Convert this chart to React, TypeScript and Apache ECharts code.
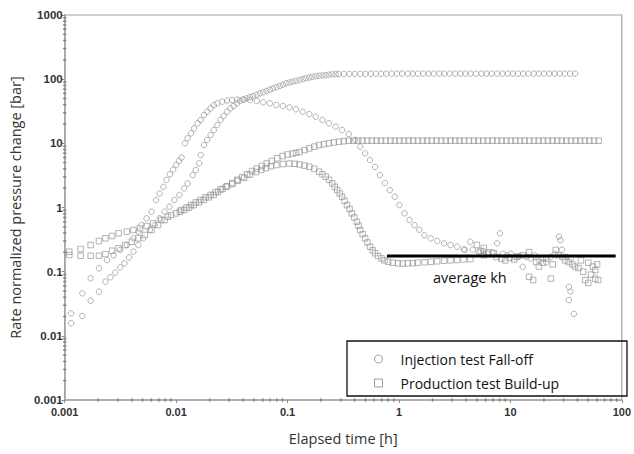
import React, { useEffect, useRef } from "react";
import * as echarts from "echarts";

// [elapsed time h, rate normalized pressure change bar]
const injectionDelta: [number, number][] = [
  [0.00114, 0.0157], [0.00144, 0.0204], [0.00171, 0.0353], [0.00203, 0.0487], [0.00232, 0.0698],
  [0.00257, 0.0817], [0.00284, 0.0964], [0.00315, 0.117], [0.00344, 0.135], [0.00379, 0.167],
  [0.00414, 0.205], [0.00458, 0.26], [0.00507, 0.331], [0.00581, 0.446], [0.00643, 0.533],
  [0.00711, 0.678], [0.00788, 0.86], [0.00873, 1.03], [0.00966, 1.31], [0.0107, 1.57],
  [0.0118, 1.99], [0.0127, 2.38], [0.0141, 3.21], [0.015, 3.84], [0.0161, 4.88],
  [0.0166, 6.58], [0.0178, 9.42], [0.019, 11.3], [0.0204, 13.5], [0.0218, 16.1],
  [0.0234, 19.3], [0.025, 23.1], [0.0267, 26.7], [0.0287, 31.1], [0.0307, 35.1],
  [0.0328, 38.2], [0.0352, 42], [0.0376, 46.1], [0.0403, 48.2], [0.0431, 50.3], [0.046, 52.5],
  [0.0493, 54.6], [0.0528, 57.2], [0.0565, 60.1], [0.0605, 62.6], [0.0648, 65.4], [0.0693, 68.5],
  [0.0741, 72], [0.0794, 75], [0.0849, 78.2], [0.0908, 82], [0.0973, 86.1], [0.104, 88.6],
  [0.111, 91.3], [0.119, 94], [0.128, 97], [0.137, 100], [0.146, 103], [0.157, 106],
  [0.167, 109], [0.179, 111], [0.192, 113], [0.206, 114.5], [0.22, 116], [0.235, 117.5],
  [0.252, 119], [0.27, 119.5], [0.288, 120], [0.32, 120.5], [0.36, 121], [0.4, 121],
  [0.45, 121], [0.5, 121], [0.56, 121.5], [0.62, 121.5], [0.69, 121.5], [0.77, 121.5],
  [0.86, 122], [0.96, 122], [1.07, 122], [1.2, 122], [1.33, 122], [1.48, 122], [1.65, 122],
  [1.84, 122], [2.05, 122], [2.3, 122], [2.55, 122], [2.85, 122], [3.2, 122], [3.55, 122],
  [3.95, 122], [4.4, 122], [4.9, 122], [5.5, 122], [6.1, 122], [6.8, 122], [7.6, 122],
  [8.5, 122], [9.5, 122], [10.5, 122], [11.7, 122], [13, 122], [14.5, 122], [16.2, 122],
  [18, 122], [20, 122], [22.3, 122], [24.9, 122], [27.7, 122], [30.9, 122], [34.4, 122], [38, 122],
];

const injectionDeriv: [number, number][] = [
  [0.00114, 0.0224], [0.00144, 0.046], [0.00171, 0.079], [0.00203, 0.113], [0.0024, 0.152],
  [0.00275, 0.18], [0.00315, 0.218], [0.00361, 0.26], [0.00414, 0.331], [0.00458, 0.42],
  [0.0049, 0.533], [0.00543, 0.678], [0.006, 0.86], [0.0066, 1.3], [0.0071, 1.65],
  [0.0077, 2.1], [0.0082, 2.7], [0.0088, 3.3], [0.0094, 3.9], [0.01, 4.6], [0.0106, 5.3],
  [0.0112, 6.0], [0.012, 10], [0.0127, 12], [0.0136, 14.3], [0.0145, 17.1], [0.0156, 20.5],
  [0.0166, 23.1], [0.0178, 27.6], [0.019, 31.1], [0.0204, 35.1], [0.0218, 39.5], [0.0234, 42],
  [0.0259, 44.6], [0.0287, 46.5], [0.0318, 47.3], [0.0352, 48], [0.0403, 48], [0.046, 47.3],
  [0.0528, 45.7], [0.0605, 43.6], [0.0693, 42], [0.0794, 39.5], [0.0908, 38.2], [0.104, 36.4],
  [0.119, 33.9], [0.137, 31.1], [0.157, 28.6], [0.179, 26], [0.206, 23.1], [0.235, 20.5],
  [0.27, 18.2], [0.309, 16.1], [0.354, 14.0], [0.405, 11.3], [0.449, 8.9], [0.497, 7.0],
  [0.55, 5.5], [0.61, 4.3], [0.675, 3.2], [0.747, 2.4], [0.827, 1.87], [0.916, 1.47],
  [1.01, 1.09], [1.12, 0.81], [1.24, 0.64], [1.38, 0.53], [1.52, 0.45], [1.69, 0.37],
  [1.93, 0.33], [2.21, 0.3], [2.54, 0.276], [2.9, 0.26], [3.33, 0.245], [3.81, 0.223],
  [3.9, 0.218], [4.37, 0.293], [4.6, 0.22], [5.2, 0.2], [5.7, 0.21], [6.3, 0.19], [6.9, 0.2],
  [7.6, 0.277], [8.05, 0.396], [8.6, 0.19], [9.3, 0.18], [10.1, 0.19], [11, 0.17], [12, 0.175],
  [12.9, 0.119], [14, 0.17], [15.2, 0.16], [16.5, 0.18], [18, 0.15], [19.5, 0.16], [21, 0.14],
  [23, 0.17], [25, 0.19], [27.3, 0.351], [28.1, 0.31], [29, 0.22], [32, 0.17], [33.5, 0.058],
  [34.6, 0.049], [33.5, 0.036], [35, 0.16], [37.1, 0.022],
];

const productionDelta: [number, number][] = [
  [0.0011, 0.205], [0.00139, 0.225], [0.00171, 0.26], [0.00203, 0.3], [0.00232, 0.331],
  [0.00266, 0.36], [0.00305, 0.396], [0.00361, 0.42], [0.00414, 0.446], [0.00473, 0.474],
  [0.00543, 0.515], [0.00622, 0.567], [0.00736, 0.638], [0.00845, 0.719], [0.01, 0.811],
  [0.0108, 0.86], [0.0118, 0.914], [0.0131, 1.0], [0.0144, 1.09], [0.016, 1.2], [0.0177, 1.31],
  [0.0196, 1.44], [0.0217, 1.57], [0.0238, 1.75], [0.0261, 1.94], [0.0287, 2.15], [0.0319, 2.41],
  [0.0354, 2.7], [0.0392, 2.99], [0.0435, 3.3], [0.048, 3.7], [0.053, 4.05], [0.0589, 4.43],
  [0.065, 4.85], [0.0722, 5.3], [0.081, 5.85], [0.0903, 6.34], [0.1, 6.7], [0.111, 6.94],
  [0.119, 7.1], [0.128, 7.32], [0.142, 7.85], [0.157, 8.36], [0.174, 8.9], [0.192, 9.41],
  [0.212, 9.7], [0.235, 10.0], [0.26, 10.3], [0.289, 10.6], [0.32, 10.8], [0.354, 11.0],
  [0.39, 11], [0.43, 11], [0.47, 11], [0.52, 11], [0.57, 11], [0.63, 11], [0.69, 11], [0.76, 11],
  [0.84, 11], [0.92, 11], [1.01, 11], [1.11, 11], [1.22, 11], [1.34, 11], [1.48, 11], [1.63, 11],
  [1.79, 11], [1.97, 11], [2.17, 11], [2.39, 11], [2.63, 11], [2.9, 11], [3.2, 11], [3.5, 11],
  [3.85, 11], [4.25, 11], [4.7, 11], [5.15, 11], [5.7, 11], [6.25, 11], [6.9, 11], [7.6, 11],
  [8.35, 11], [9.2, 11], [10.1, 11], [11.1, 11], [12.2, 11], [13.4, 11], [14.8, 11], [16.3, 11],
  [17.9, 11], [19.7, 11], [21.7, 11], [23.9, 11], [26.3, 11], [28.9, 11], [31.8, 11], [35, 11],
  [38.5, 11], [42.3, 11], [46.5, 11], [51.2, 11], [56.3, 11], [62, 11],
];

const productionDeriv: [number, number][] = [
  [0.0011, 0.182], [0.00139, 0.177], [0.00171, 0.177], [0.00203, 0.177], [0.00232, 0.188],
  [0.00266, 0.212], [0.00305, 0.231], [0.00349, 0.26], [0.004, 0.293], [0.00458, 0.331],
  [0.00524, 0.373], [0.006, 0.446], [0.00689, 0.533], [0.00788, 0.638], [0.00903, 0.763],
  [0.0111, 0.914], [0.0124, 1.0], [0.0136, 1.09], [0.015, 1.2], [0.0166, 1.31], [0.0184, 1.44],
  [0.0204, 1.57], [0.0226, 1.74], [0.025, 1.91], [0.028, 2.1], [0.0319, 2.32], [0.0357, 2.6],
  [0.0408, 2.88], [0.046, 3.25], [0.0521, 3.57], [0.058, 3.85], [0.0639, 4.12], [0.071, 4.4],
  [0.0794, 4.59], [0.091, 4.75], [0.104, 4.85], [0.116, 4.8], [0.128, 4.68], [0.142, 4.5],
  [0.157, 4.32], [0.174, 4.0], [0.192, 3.61], [0.206, 3.3], [0.22, 3.02], [0.236, 2.7],
  [0.252, 2.38], [0.265, 2.1], [0.279, 1.87], [0.294, 1.65], [0.309, 1.47], [0.325, 1.27],
  [0.342, 1.09], [0.36, 0.95], [0.378, 0.81], [0.398, 0.7], [0.419, 0.6], [0.434, 0.52],
  [0.449, 0.446], [0.472, 0.385], [0.497, 0.331], [0.522, 0.285], [0.55, 0.245], [0.58, 0.215],
  [0.61, 0.194], [0.65, 0.175], [0.697, 0.161], [0.74, 0.15], [0.8, 0.143], [0.88, 0.138],
  [0.98, 0.135], [1.08, 0.134], [1.2, 0.135], [1.33, 0.136], [1.47, 0.138], [1.7, 0.14],
  [1.93, 0.143], [2.2, 0.145], [2.54, 0.148], [2.9, 0.15], [3.33, 0.152], [3.8, 0.155],
  [4.37, 0.157], [5.0, 0.26], [5.4, 0.21], [5.77, 0.234], [5.77, 0.18], [6.3, 0.2], [7.08, 0.195],
  [7.52, 0.169], [8.3, 0.16], [9.0, 0.15], [9.8, 0.165], [10.8, 0.155], [11.5, 0.17], [13.0, 0.18],
  [14.7, 0.202], [14.7, 0.083], [16.0, 0.074], [17.0, 0.141], [18, 0.12], [19.6, 0.138],
  [21, 0.16], [23.1, 0.078], [24, 0.13], [25.5, 0.218], [27, 0.18], [29.4, 0.169], [31, 0.15],
  [33.3, 0.141], [36, 0.13], [38, 0.12], [40.8, 0.114], [43, 0.15], [45, 0.1], [47.1, 0.074],
  [50, 0.0666], [50, 0.138], [53, 0.09], [55, 0.12], [57.7, 0.0777], [57.7, 0.106], [60, 0.13],
  [61.3, 0.074],
];

const averageKh: [number, number][] = [[0.78, 0.175], [88, 0.175]];

const legendNames = ["Injection test Fall-off", "Production test Build-up"];
const minorFactors = [2, 3, 4, 5, 6, 7, 8, 9];
const xDecades = [-3, -2, -1, 0, 1];
const yDecades = [-3, -2, -1, 0, 1, 2];

const FONT = "'Open Sans', 'Noto Sans', sans-serif";
const AXIS_GRAY = "#a3a3a3";
const MARK_GRAY = "#959595";

export default function App() {
  const ref = useRef<HTMLDivElement>(null);

  useEffect(() => {
    const chart = echarts.init(ref.current!, null, { renderer: "svg" });

    const xMinor: [number, number][] = [];
    xDecades.forEach((d) => minorFactors.forEach((f) => xMinor.push([f * Math.pow(10, d), 0.001])));
    const yMinor: [number, number][] = [];
    yDecades.forEach((d) => minorFactors.forEach((f) => yMinor.push([0.001, f * Math.pow(10, d)])));

    const fmt = (v: number) => String(Number(v.toPrecision(3)));

    const markStyle = { color: "transparent", borderColor: MARK_GRAY, borderWidth: 0.9 };

    chart.setOption({
      animation: false,
      backgroundColor: "#ffffff",
      grid: {
        left: 62, right: 7, top: 15, bottom: 54,
        show: true, borderColor: AXIS_GRAY, borderWidth: 1.2, backgroundColor: "transparent",
      },
      xAxis: {
        type: "log", logBase: 10, min: 0.001, max: 100,
        name: "Elapsed time [h]", nameLocation: "middle", nameGap: 31,
        nameTextStyle: { fontSize: 14.5, fontFamily: FONT, color: "#333" },
        axisLine: { lineStyle: { color: AXIS_GRAY, width: 1.5 } },
        axisTick: { show: true, length: 3, lineStyle: { color: "#888" } },
        splitLine: { show: false },
        axisLabel: { formatter: fmt, fontSize: 11, fontWeight: "bold", color: "#333", margin: 6, fontFamily: "'Liberation Sans', Arial, sans-serif" },
      },
      yAxis: {
        type: "log", logBase: 10, min: 0.001, max: 1000,
        name: "Rate normalized pressure change [bar]", nameLocation: "middle", nameGap: 34,
        nameTextStyle: { fontSize: 14.5, fontFamily: FONT, color: "#333" },
        axisLine: { lineStyle: { color: AXIS_GRAY, width: 1.5 } },
        axisTick: { show: true, length: 3, lineStyle: { color: "#888" } },
        splitLine: { show: false },
        axisLabel: { formatter: fmt, fontSize: 11.5, fontWeight: "bold", color: "#333", margin: 2, fontFamily: "'Liberation Sans', Arial, sans-serif" },
      },
      legend: {
        data: [
          { name: legendNames[0], icon: "circle" },
          { name: legendNames[1], icon: "rect" },
        ],
        orient: "vertical", left: 369, top: 346,
        itemWidth: 8, itemHeight: 8, itemGap: 8,
        itemStyle: { color: "transparent", borderColor: "#888", borderWidth: 1 },
        textStyle: { fontSize: 14, fontFamily: FONT, color: "#111", lineHeight: 16, padding: [0, 0, 0, 13] },
        selectedMode: false,
      },
      graphic: [
        {
          type: "rect", z: 10,
          shape: { x: 347, y: 341, width: 280, height: 55 },
          style: { fill: "none", stroke: "#111", lineWidth: 1.3 },
        },
        {
          type: "text", z: 10, left: 433, top: 270,
          style: { text: "average kh", fontSize: 14.5, fontFamily: FONT, fill: "#111" },
        },
      ],
      series: [
        { type: "scatter", name: legendNames[0], data: injectionDelta, symbol: "circle", symbolSize: 5.5, itemStyle: markStyle, silent: true },
        { type: "scatter", name: legendNames[0], data: injectionDeriv, symbol: "circle", symbolSize: 5.5, itemStyle: markStyle, silent: true },
        { type: "scatter", name: legendNames[1], data: productionDelta, symbol: "rect", symbolSize: 5.5, itemStyle: markStyle, silent: true },
        { type: "scatter", name: legendNames[1], data: productionDeriv, symbol: "rect", symbolSize: 5.5, itemStyle: markStyle, silent: true },
        {
          type: "line", name: "average kh", data: averageKh, symbol: "none",
          lineStyle: { color: "#000", width: 3 }, silent: true, z: 5,
        },
        {
          type: "scatter", name: "xminor", data: xMinor, symbol: "rect", symbolSize: [1.5, 3.5],
          itemStyle: { color: "#777" }, silent: true, clip: false, z: 6,
        },
        {
          type: "scatter", name: "yminor", data: yMinor, symbol: "rect", symbolSize: [3.5, 1.5],
          itemStyle: { color: "#777" }, silent: true, clip: false, z: 6,
        },
      ],
    });

    return () => chart.dispose();
  }, []);

  return <div ref={ref} style={{ position: "absolute", left: 0, top: 0, width: 634, height: 454 }} />;
}
